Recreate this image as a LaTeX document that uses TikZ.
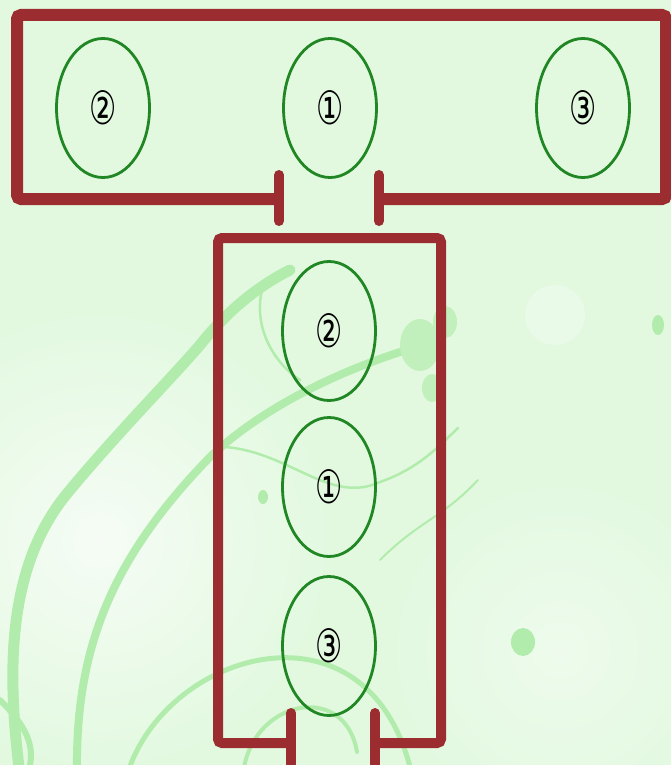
\documentclass[tikz,border=0pt]{standalone}
\usepackage{fontspec}
\newfontfamily\symfont{DejaVu Sans}
\usetikzlibrary{shapes.geometric}
\definecolor{bg}{RGB}{226,249,224}
\definecolor{glow}{RGB}{246,252,245}
\definecolor{swirl}{RGB}{178,236,172}
\definecolor{frame}{RGB}{155,44,48}
\definecolor{ring}{RGB}{32,135,36}
\newcommand\cdig[1]{\scalebox{0.66}[1]{\fontsize{46}{46}\selectfont\symfont #1}}
\begin{document}
\begin{tikzpicture}[x=1pt,y=-1pt,
  slot/.style={ellipse, draw=ring, line width=2.8pt, minimum width=93pt, minimum height=139pt, inner sep=0pt, text=black},
  topframe/.style={draw=frame, line width=12pt, rounded corners=4pt},
  lowframe/.style={draw=frame, line width=10pt, rounded corners=4pt},
  tickmark/.style={draw=frame, line width=10pt, line cap=round},
  deco/.style={draw=swirl, line cap=round}]
\useasboundingbox (0,0) rectangle (671,765);
\clip (0,0) rectangle (671,765);
% background
\fill[bg] (0,0) rectangle (671,765);
\shade[inner color=glow, outer color=bg] (100,540) circle (230);
\shade[inner color=glow!60!bg, outer color=bg] (560,650) circle (170);
% decorative swirls
\draw[deco, line width=11pt] (20,775) .. controls (5,660) and (10,560) .. (70,490)
   .. controls (120,430) and (170,380) .. (200,345) .. controls (220,320) and (250,290) .. (290,270);
\draw[deco, line width=8pt] (77,775) .. controls (75,650) and (110,560) .. (210,457)
   .. controls (260,410) and (330,375) .. (400,352);
\draw[deco, line width=5pt] (127,775) .. controls (165,650) and (370,590) .. (412,775);
\draw[deco, line width=4pt] (243,775) .. controls (250,700) and (345,680) .. (357,752);
\draw[deco, line width=2.5pt] (225,447) .. controls (290,452) and (330,505) .. (380,482)
   .. controls (420,468) and (440,445) .. (458,428);
\draw[deco, line width=2.5pt] (265,280) .. controls (250,320) and (270,360) .. (300,380);
\draw[deco, line width=2pt] (380,560) .. controls (420,520) and (440,520) .. (478,480);
\draw[deco, line width=6pt] (0,700) .. controls (20,720) and (35,740) .. (30,765);
\fill[swirl!70!bg] (420,345) ellipse (20 and 26);
\fill[swirl!70!bg] (445,322) ellipse (12 and 16);
\fill[swirl!70!bg] (432,388) ellipse (10 and 14);
\fill[swirl] (658,325) ellipse (6 and 10);
\fill[swirl] (523,642) ellipse (12 and 14);
\fill[swirl] (263,497) ellipse (5 and 7);
\fill[glow!40!bg] (555,315) circle (30);
% frame coordinates
\coordinate (tl) at (17,15);
\coordinate (tr) at (666,199);
\coordinate (tgl) at (279,199);
\coordinate (tgr) at (379,199);
\coordinate (ll) at (218,238);
\coordinate (lr) at (441,743);
\coordinate (lgl) at (291,743);
\coordinate (lgr) at (375,743);
% top frame
\draw[topframe] (tgl) -| (tl) -| (tr) -- (tgr);
\draw[tickmark] ([yshift=-22pt]tgl) -- ([yshift=24pt]tgl);
\draw[tickmark] ([yshift=-22pt]tgr) -- ([yshift=24pt]tgr);
% lower frame
\draw[lowframe] (lgl) -| (ll) -| (lr) -- (lgr);
\draw[tickmark] ([yshift=-21pt]lgl) -- ([yshift=30pt]lgl);
\draw[tickmark] ([yshift=-21pt]lgr) -- ([yshift=30pt]lgr);
% cylinders
\node[slot] (t2) at (103,108) {\cdig{②}};
\node[slot] (t1) at (330,108) {\cdig{①}};
\node[slot] (t3) at (583,108) {\cdig{③}};
\node[slot] (b2) at (329,331) {\cdig{②}};
\node[slot] (b1) at (329,487) {\cdig{①}};
\node[slot] (b3) at (329,646) {\cdig{③}};
\end{tikzpicture}
\end{document}
